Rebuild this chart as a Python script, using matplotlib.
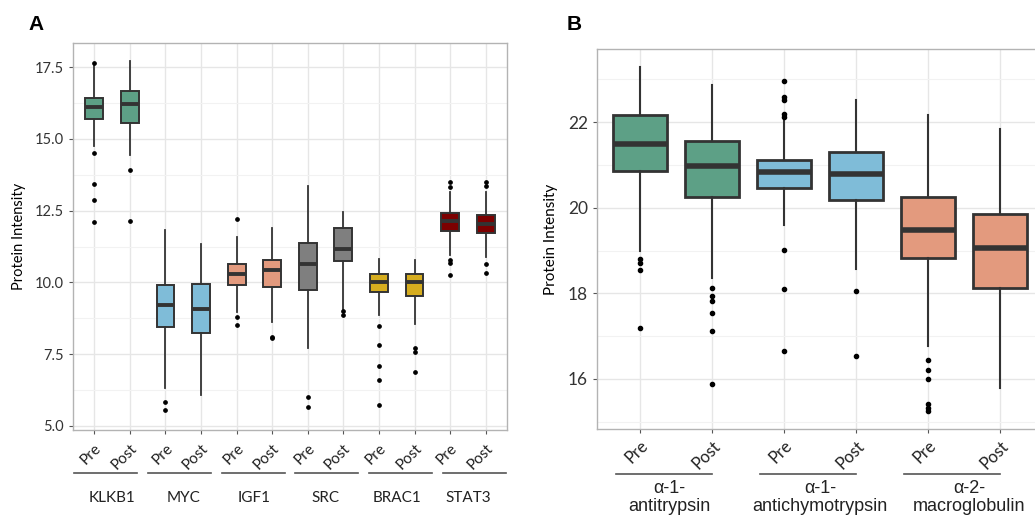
import matplotlib
matplotlib.use("Agg")
import matplotlib.pyplot as plt
from matplotlib.ticker import MultipleLocator, FormatStrFormatter

# ---------------- Data: Panel A ----------------
A_genes = ["KLKB1", "MYC", "IGF1", "SRC", "BRAC1", "STAT3"]
A_colors = ["#5da086", "#7fbcd8", "#e39a7e", "#7f7f7f", "#d6ad1f", "#7c0000"]
A_ticks = ["Pre", "Post"] * 6
A_q1 = [15.71, 15.57, 8.46, 8.23, 9.92, 9.85, 9.75, 10.75, 9.65, 9.54, 11.79, 11.73]
A_med = [16.12, 16.22, 9.23, 9.08, 10.29, 10.43, 10.63, 11.17, 10.03, 10.00, 12.15, 12.02]
A_q3 = [16.43, 16.67, 9.91, 9.94, 10.63, 10.79, 11.36, 11.90, 10.29, 10.30, 12.42, 12.34]
A_lo = [14.74, 14.43, 6.32, 6.08, 8.97, 8.62, 7.72, 9.08, 8.85, 8.56, 10.95, 10.90]
A_hi = [17.55, 17.70, 11.84, 11.34, 11.60, 11.91, 13.37, 12.45, 10.80, 10.78, 13.14, 13.14]
A_fliers = [
    [17.63, 14.50, 13.43, 12.88, 12.12],
    [13.93, 12.13],
    [5.84, 5.54],
    [],
    [12.22, 8.79, 8.50],
    [8.10, 8.05],
    [6.02, 5.67],
    [9.02, 8.87],
    [8.48, 7.81, 7.08, 6.61, 5.73],
    [7.70, 7.56, 6.87],
    [13.51, 13.34, 10.78, 10.69, 10.26],
    [13.49, 13.37, 10.63, 10.34],
]

# ---------------- Data: Panel B ----------------
B_proteins = ["\u03b1-1-\nantitrypsin", "\u03b1-1-\nantichymotrypsin", "\u03b1-2-\nmacroglobulin"]
B_colors = ["#5da086", "#7fbcd8", "#e39a7e"]
B_ticks = ["Pre", "Post"] * 3
B_q1 = [20.86, 20.26, 20.46, 20.17, 18.83, 18.13]
B_med = [21.50, 20.98, 20.84, 20.78, 19.49, 19.06]
B_q3 = [22.16, 21.57, 21.11, 21.30, 20.26, 19.86]
B_lo = [19.00, 18.37, 19.60, 18.56, 16.77, 15.78]
B_hi = [23.29, 22.86, 22.05, 22.51, 22.16, 21.83]
B_fliers = [
    [18.80, 18.72, 18.54, 17.19],
    [18.13, 17.94, 17.82, 17.53, 17.12, 15.87],
    [22.18, 22.12, 22.51, 22.59, 22.96, 19.02, 18.09, 16.65],
    [18.05, 16.54],
    [16.44, 16.21, 16.00, 15.41, 15.32, 15.24],
    [],
]

# layout-only: horizontal offsets of the group labels in panel B
B_label_offsets = [0.4, 0.5, 0.57]

FONT = ["Lato", "DejaVu Sans"]
plt.rcParams["font.family"] = FONT

W, H = 1035, 521
fig = plt.figure(figsize=(W / 100, H / 100), dpi=100)


def px_axes(left, top, right, bottom):
    return fig.add_axes([left / W, 1 - bottom / H, (right - left) / W, (bottom - top) / H])


def style_axes(ax):
    ax.set_facecolor("white")
    for s in ax.spines.values():
        s.set_color("#b3b3b3")
        s.set_linewidth(1.0)
    ax.grid(True, which="major", color="#e6e6e6", linewidth=1.0)
    ax.grid(True, which="minor", axis="y", color="#f2f2f2", linewidth=0.8)
    ax.set_axisbelow(True)
    ax.tick_params(axis="both", which="major", length=3, color="#555555", width=0.8)
    ax.tick_params(axis="y", which="minor", length=0)


def draw_boxes(ax, q1, med, q3, lo, hi, fliers, colors, width, lw, wlw, medlw, fsize):
    stats = []
    for i in range(len(q1)):
        stats.append(dict(q1=q1[i], med=med[i], q3=q3[i], whislo=lo[i], whishi=hi[i], fliers=fliers[i]))
    pos = list(range(1, len(q1) + 1))
    bp = ax.bxp(stats, positions=pos, widths=width, patch_artist=True, showcaps=False,
                boxprops=dict(edgecolor="#333333", linewidth=lw),
                medianprops=dict(color="#333333", linewidth=medlw, solid_capstyle="butt"),
                whiskerprops=dict(color="#333333", linewidth=wlw),
                flierprops=dict(marker="o", markersize=fsize, markerfacecolor="black",
                                markeredgecolor="black", linestyle="none"))
    for i, patch in enumerate(bp["boxes"]):
        patch.set_facecolor(colors[i // 2])
    return pos


# ---------------- Panel A ----------------
axA = px_axes(73, 43, 507, 430)
style_axes(axA)
posA = draw_boxes(axA, A_q1, A_med, A_q3, A_lo, A_hi, A_fliers, A_colors, 0.5, 1.4, 1.3, 2.8, 2.4)
axA.set_xlim(0.4, 12.6)
axA.set_ylim(4.86, 18.34)
axA.yaxis.set_major_locator(MultipleLocator(2.5))
axA.yaxis.set_minor_locator(MultipleLocator(1.25))
axA.yaxis.set_major_formatter(FormatStrFormatter("%.1f"))
axA.set_xticks(posA)
axA.set_xticklabels(A_ticks, rotation=45, ha="right", va="top", rotation_mode="anchor",
                    fontsize=11, color="#222222")
axA.tick_params(axis="x", pad=5)
axA.tick_params(axis="y", labelsize=10.5, labelcolor="#333333")
axA.set_ylabel("Protein Intensity", fontsize=10.5, labelpad=4)
axA.yaxis.set_label_coords(-0.108, 0.5)

# group lines & labels A
for k, g in enumerate(A_genes):
    x0 = (74 - 73 + k * 73.8) / 434
    x1 = x0 + 63 / 434
    axA.plot([x0, x1], [-0.11, -0.11], transform=axA.transAxes, clip_on=False,
             color="#555555", linewidth=1.2)
    cx = 2 * k + 1.5
    axA.text(cx, -0.175, g, transform=axA.get_xaxis_transform(), ha="center", va="center",
             fontsize=11, color="#222222")

fig.text(28 / W, 1 - 25 / H, "A", fontsize=15, fontweight="bold", ha="left", va="center",
         family=["Liberation Sans", "DejaVu Sans"])

# ---------------- Panel B ----------------
axB = px_axes(597, 49, 1043, 429)
style_axes(axB)
axB.spines["right"].set_visible(False)
posB = draw_boxes(axB, B_q1, B_med, B_q3, B_lo, B_hi, B_fliers, B_colors, 0.75, 2.0, 1.5, 4.0, 3.0)
axB.set_xlim(0.4, 6.6)
axB.set_ylim(14.83, 23.71)
axB.yaxis.set_major_locator(MultipleLocator(2))
axB.yaxis.set_minor_locator(MultipleLocator(1))
axB.set_xticks(posB)
axB.set_xticklabels(B_ticks, rotation=45, ha="right", va="top", rotation_mode="anchor",
                    fontsize=12, color="#222222")
axB.tick_params(axis="x", pad=3)
axB.tick_params(axis="y", labelsize=12.5, labelcolor="#333333")
axB.set_ylabel("Protein Intensity", fontsize=11, labelpad=4)
axB.yaxis.set_label_coords(-0.087, 0.5)

for k, g in enumerate(B_proteins):
    x0 = 2 * k + 1 - 0.33
    x1 = 2 * k + 2
    axB.plot([x0, x1], [-0.118, -0.118], transform=axB.get_xaxis_transform(), clip_on=False,
             color="#555555", linewidth=1.2)
    axB.text(2 * k + 1 + B_label_offsets[k], -0.135, g, transform=axB.get_xaxis_transform(),
             ha="center", va="top", fontsize=13, color="#222222", linespacing=1.05,
             family=["Liberation Sans", "DejaVu Sans"])

fig.text(567 / W, 1 - 25 / H, "B", fontsize=15, fontweight="bold", ha="left", va="center",
         family=["Liberation Sans", "DejaVu Sans"])

fig.savefig("out.png", dpi=100, facecolor="white")
